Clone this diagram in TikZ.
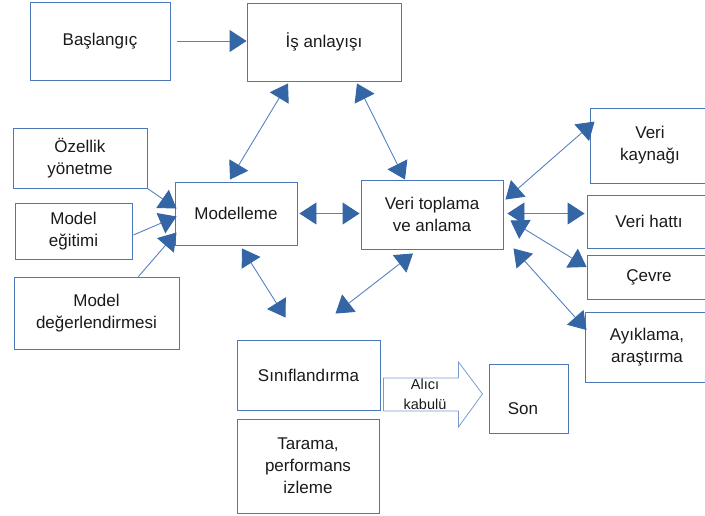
\documentclass[tikz,border=0pt]{standalone}
\usepackage{fontspec}
\setmainfont{Liberation Sans}
\usetikzlibrary{arrows.meta,calc}
\definecolor{boxline}{HTML}{4A78B8}
\definecolor{arrline}{HTML}{5582C0}
\definecolor{headfill}{HTML}{3465A4}
\definecolor{txt}{HTML}{1A1A1A}
\begin{document}
\begin{tikzpicture}[x=1pt,y=-1pt,
  box/.style={draw=boxline,line width=0.9pt,rectangle,inner sep=0pt,
    align=center,text=txt,font=\fontsize{17}{22}\selectfont},
  arr/.style={draw=arrline,line width=0.9pt,-{Triangle[length=17pt,width=22pt,fill=headfill,color=headfill]}},
  darr/.style={draw=arrline,line width=0.9pt,
    {Triangle[length=17pt,width=22pt,fill=headfill,color=headfill]}-{Triangle[length=17pt,width=22pt,fill=headfill,color=headfill]}}]
\useasboundingbox (0,0) rectangle (705,515);

% boxes
\node[box,minimum width=140,minimum height=78] (start) at (100,41) {Başlangıç};
\node[box,minimum width=154,minimum height=78] (is) at (324,42) {İş anlayışı};
\node[box,minimum width=134,minimum height=60] (ozel) at (80,158) {Özellik\\yönetme};
\node[box,minimum width=117,minimum height=56] (egit) at (73.5,231) {Model\\eğitimi};
\node[box,minimum width=165,minimum height=72] (deger) at (96.5,313) {Model\\değerlendirmesi};
\node[box,minimum width=122,minimum height=63] (mod) at (236,213.5) {Modelleme};
\node[box,minimum width=142,minimum height=69] (veri) at (432,214.5) {Veri toplama\\ve anlama};
\node[box,minimum width=120,minimum height=75] (kaynak) at (650,145.5) {Veri\\kaynağı};
\node[box,minimum width=124,minimum height=53] (hatti) at (649,221.5) {Veri hattı};
\node[box,minimum width=124,minimum height=44] (cevre) at (649,277) {Çevre};
\node[box,minimum width=124,minimum height=70] (ayik) at (647,347) {Ayıklama,\\araştırma};
\node[box,minimum width=143,minimum height=70] (sinif) at (308.5,375) {Sınıflandırma};
\node[box,minimum width=142,minimum height=94] (tarama) at (308,466) {Tarama,\\performans\\izleme};
\node[box,minimum width=79,minimum height=69] (son) at (528.5,398.5) {};
\node[text=txt,font=\fontsize{17}{22}\selectfont,inner sep=0pt] (sontext) at (523,409) {Son};

% hollow block arrow
\draw[draw=arrline!80,line width=0.8pt]
  ($(sinif.east)+(3,3)$) -- ++(75,0) -- ++(0,-16) -- ++(24,32) -- ++(-24,33)
  -- ++(0,-16) -- ++(-75,0) -- cycle;
\node[text=txt,align=center,font=\fontsize{14.5}{20}\selectfont,inner sep=0pt]
  (alici) at (425,394) {Alıcı\\kabulü};

% connectors
\draw[arr] ($(start.east)+(7,0)$) -- (start.east -| is.west);
\draw[darr] ($(is.south)+(-36,2)$) -- ($(mod.north)+(-6,-2)$);
\draw[darr] ($(is.south)+(33,2)$) -- ($(veri.north)+(-27,0)$);
\draw[darr] ($(mod.east)+(2,0)$) -- ($(mod.east -| veri.west)+(-1,0)$);
\draw[darr] ($(mod.south)+(6,3)$) -- ($(sinif.north)+(-23,-22)$);
\draw[darr] ($(veri.south)+(-19,4)$) -- ($(sinif.north)+(27,-26)$);
\draw[darr] ($(veri.north east)+(2,20)$) -- ($(kaynak.north west)+(5,14)$);
\draw[darr] ($(veri.east)+(4,-1)$) -- ($(hatti.west)+(-2,-8)$);
\draw[darr] ($(veri.east)+(7,6)$) -- ($(cevre.west)+(0,-10)$);
\draw[darr] ($(veri.south east)+(10,-1)$) -- ($(ayik.west)+(2,-17)$);
\draw[arr] (ozel.south east) -- ($(mod.west)+(2,-5)$);
\draw[arr] ($(egit.east)+(1,4)$) -- ($(mod.west)+(2,3)$);
\draw[arr] ($(deger.north east)+(-41,0)$) -- ($(mod.west)+(2,19)$);
\end{tikzpicture}
\end{document}
